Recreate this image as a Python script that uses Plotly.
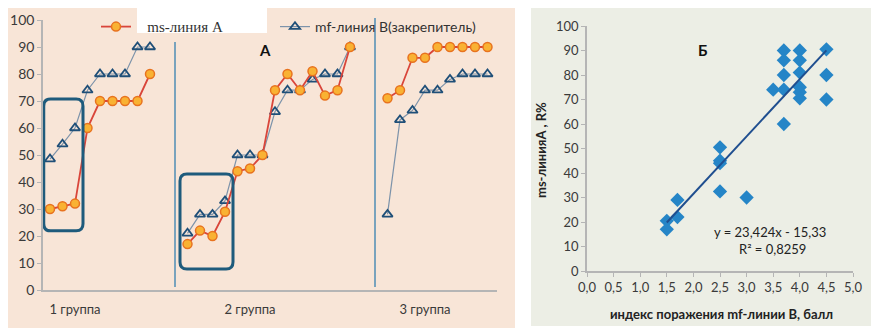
import plotly.graph_objects as go

# the page body has an 8px margin; the figure itself is 872x325
OFF = 8
W, H = 872, 325

# ---------------- data: panel A ----------------
group_names = ["1 группа", "2 группа", "3 группа"]
g1_ms = [30, 31, 32, 60, 70, 70, 70, 70, 80]
g1_mf = [48.5, 54, 60, 74, 80, 80, 80, 90, 90]
g2_ms = [17, 22, 20, 29, 44, 45, 50, 74, 80, 74, 81, 72, 74, 90]
g2_mf = [21, 28, 28, 33, 50, 50, 50, 66, 74, 74, 78, 80, 80, 90]
g3_ms = [71, 74, 86, 86, 90, 90, 90, 90, 90]
g3_mf = [28, 63, 66.5, 74, 74, 78, 80, 80, 80]
y_ticks_a = [0, 10, 20, 30, 40, 50, 60, 70, 80, 90, 100]

# ---------------- data: panel Б ----------------
sc_x = [1.5, 1.5, 1.7, 1.7, 2.5, 2.5, 2.5, 2.5, 3.0,
        3.5, 3.7, 3.7, 3.7, 3.7, 3.7,
        4.0, 4.0, 4.0, 4.0, 4.0, 4.0,
        4.5, 4.5, 4.5]
sc_y = [20.5, 17, 29, 22, 50.5, 45, 44, 32.5, 30,
        74, 90, 86, 80, 74, 60,
        90, 86, 81, 75, 73, 70.5,
        90.5, 80, 70]
trend_slope = 23.424
trend_intercept = -15.33
trend_x = [1.5, 4.5]
eq_text = "y = 23,424x - 15,33"
r2_text = "R² = 0,8259"
x_ticks_b = [0, 0.5, 1, 1.5, 2, 2.5, 3, 3.5, 4, 4.5, 5]

# ---------------- helpers (page pixel -> paper) ----------------
def px(x):
    return (x - OFF) / W

def py(y):
    return 1 - (y - OFF) / H

GAP = 2  # blank category slots between groups
groups_ms = [g1_ms, g2_ms, g3_ms]
groups_mf = [g1_mf, g2_mf, g3_mf]
xs, ms, mf = [], [], []
starts = []
pos = 0
for gi, (a, b) in enumerate(zip(groups_ms, groups_mf)):
    starts.append(pos)
    for va, vb in zip(a, b):
        xs.append(pos); ms.append(va); mf.append(vb)
        pos += 1
    if gi < 2:
        xs.append(None); ms.append(None); mf.append(None)
        pos += GAP
label_pos = [starts[0] + 2, starts[1] + 5, starts[2] + 3]
dividers = [starts[1] - 1, starts[2] - 1]

FONT = "Lato, 'Noto Sans', 'Liberation Sans', sans-serif"
TXT = "#3a3a3a"

fig = go.Figure()

fig.add_trace(go.Scatter(
    x=xs, y=mf, mode="lines+markers", name="mf-линия В(закрепитель)",
    line=dict(color="#7d93aa", width=1.2),
    marker=dict(symbol="triangle-up-open", size=9, color="#1f4f78",
                line=dict(width=1.8, color="#1f4f78")),
    xaxis="x", yaxis="y", legend="legend2", connectgaps=False))

fig.add_trace(go.Scatter(
    x=xs, y=ms, mode="lines+markers",
    name="<span style=\"font-family:'Liberation Serif', serif; font-size:15px\">   ms-линия А</span>",
    line=dict(color="#d9453a", width=1.8),
    marker=dict(symbol="circle", size=9, color="#f9b233",
                line=dict(width=1.5, color="#e8731f")),
    xaxis="x", yaxis="y", legend="legend", connectgaps=False))

# panel Б
fig.add_trace(go.Scatter(
    x=sc_x, y=sc_y, mode="markers", showlegend=False,
    marker=dict(symbol="diamond", size=11, color="#2585c7"),
    xaxis="x2", yaxis="y2"))
fig.add_trace(go.Scatter(
    x=trend_x, y=[trend_slope * v + trend_intercept for v in trend_x],
    mode="lines", showlegend=False,
    line=dict(color="#1f4e8f", width=2),
    xaxis="x2", yaxis="y2"))

shapes = []
# panel backgrounds
shapes.append(dict(type="rect", xref="paper", yref="paper", layer="below",
                   x0=px(8), x1=px(515), y0=py(328), y1=py(8),
                   fillcolor="#f8e5d7", line=dict(width=0)))
shapes.append(dict(type="rect", xref="paper", yref="paper", layer="below",
                   x0=px(531), x1=px(871), y0=py(326), y1=py(8),
                   fillcolor="#eceee5", line=dict(width=0)))
# dividers
shapes.append(dict(type="line", xref="x", yref="paper",
                   x0=dividers[0], x1=dividers[0], y0=py(287), y1=py(42),
                   line=dict(color="#4f8db4", width=1.5)))
shapes.append(dict(type="line", xref="x", yref="paper",
                   x0=dividers[1], x1=dividers[1], y0=py(287), y1=py(18),
                   line=dict(color="#4f8db4", width=1.5)))

def rounded(x0, x1, y0, y1, rx, ry):
    return (f"M {x0+rx},{y1} L {x1-rx},{y1} Q {x1},{y1} {x1},{y1-ry} "
            f"L {x1},{y0+ry} Q {x1},{y0} {x1-rx},{y0} L {x0+rx},{y0} "
            f"Q {x0},{y0} {x0},{y0+ry} L {x0},{y1-ry} Q {x0},{y1} {x0+rx},{y1} Z")

shapes.append(dict(type="path", xref="x", yref="y",
                   path=rounded(-0.5, 2.64, 21.9, 70.7, 0.55, 2.6),
                   line=dict(color="#1e5b7c", width=3)))
shapes.append(dict(type="path", xref="x", yref="y",
                   path=rounded(10.4, 14.64, 7.8, 43, 0.55, 2.6),
                   line=dict(color="#1e5b7c", width=3)))
# white box over legend
shapes.append(dict(type="rect", xref="paper", yref="paper", layer="above",
                   x0=px(137), x1=px(267), y0=py(33), y1=py(8),
                   fillcolor="white", line=dict(width=0)))

def ann(text, x, y, size=13, color="#222", **kw):
    return dict(text=text, x=px(x), y=py(y), xref="paper", yref="paper",
                xanchor="center", yanchor="middle", showarrow=False,
                font=dict(size=size, color=color, family=FONT), **kw)

annotations = [
    ann("<b>А</b>", 265, 50, size=15, color="#111"),
    ann("<b>Б</b>", 702, 50, size=15, color="#111"),
    ann(eq_text, 770, 232),
    ann(r2_text, 772, 249),
    ann("<b>индекс поражения mf-линии В, балл</b>", 721, 314),
    ann("<b>ms-линияА , R%</b>", 541, 150, textangle=-90),
]

fig.update_layout(
    width=W, height=H, margin=dict(l=0, r=0, t=0, b=0, autoexpand=False),
    paper_bgcolor="white", plot_bgcolor="white",
    separators=",.",
    font=dict(family=FONT, size=13, color=TXT),
    shapes=shapes, annotations=annotations,
    legend=dict(orientation="h", x=px(96), y=py(11), xanchor="left", yanchor="top",
                bgcolor="rgba(0,0,0,0)", font=dict(size=14, color="#333")),
    legend2=dict(orientation="h", x=px(275), y=py(11), xanchor="left", yanchor="top",
                 bgcolor="rgba(0,0,0,0)", font=dict(size=14, color="#333", family=FONT)),
    xaxis=dict(domain=[px(43), px(497)], range=[-0.56, 35.76], automargin=False,
               tickvals=label_pos, ticktext=group_names, ticks="",
               showline=True, linecolor="#b5b5b5", linewidth=1.5,
               showgrid=False, zeroline=False, ticklabelstandoff=7,
               tickfont=dict(size=13, color=TXT)),
    yaxis=dict(domain=[py(290), py(20)], range=[0, 100], tickvals=y_ticks_a,
               automargin=False,
               showline=True, linecolor="#b5b5b5", linewidth=1.5,
               ticks="outside", ticklen=4, tickcolor="#b5b5b5",
               showgrid=False, zeroline=False, tickfont=dict(size=14, color=TXT)),
    xaxis2=dict(domain=[px(587), px(853)], range=[0, 5], tickvals=x_ticks_b,
                tickformat=".1f", anchor="y2", automargin=False,
                showline=True, linecolor="#b5b5b5", linewidth=1.5,
                ticks="outside", ticklen=4, tickcolor="#b5b5b5",
                showgrid=False, zeroline=False, tickfont=dict(size=13, color=TXT)),
    yaxis2=dict(domain=[py(271), py(26)], range=[0, 100], tickvals=y_ticks_a,
                anchor="x2", automargin=False,
                showline=True, linecolor="#b5b5b5", linewidth=1.5,
                ticks="outside", ticklen=4, tickcolor="#b5b5b5",
                showgrid=False, zeroline=False, tickfont=dict(size=13, color=TXT)),
)

fig.write_html("out.html")
